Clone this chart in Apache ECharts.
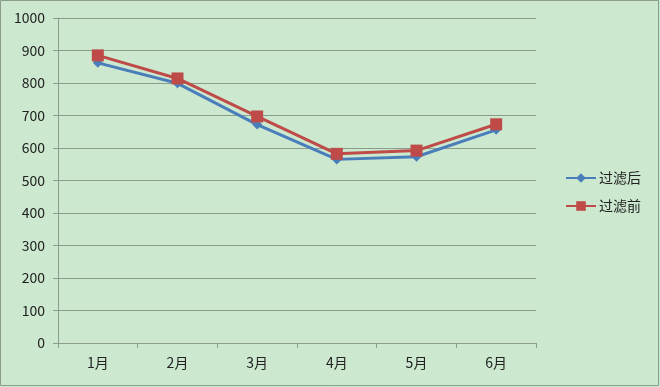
<!DOCTYPE html>
<html><head><meta charset="utf-8">
<script src="https://cdn.jsdelivr.net/npm/echarts@6/dist/echarts.min.js"></script>
<style>html,body{margin:0;padding:0;background:#CCE8CF}#c{width:660px;height:387px}</style>
</head><body><div id="c"></div>
<script>
const categories = ['1月','2月','3月','4月','5月','6月'];
const afterFilter = [862, 799, 672, 565, 573, 656];
const beforeFilter = [885, 814, 697, 582, 592, 673];
const yTicks = [0,100,200,300,400,500,600,700,800,900,1000];

const chart = echarts.init(document.getElementById('c'));
const font = '"Noto Sans CJK SC", "DejaVu Sans", sans-serif';
chart.setOption({
  backgroundColor: '#CCE8CF',
  animation: false,
  graphic: [{type:'rect', shape:{x:0.5,y:0.5,width:658,height:385}, style:{fill:'none', stroke:'#8C9C8C', lineWidth:1}}],
  grid: {left: 58, right: 124, top: 18, bottom: 44},
  legend: {
    orient: 'vertical', left: 560, top: 166, itemGap: 14, itemWidth: 30, itemHeight: 12,
    textStyle: {fontFamily: font, fontSize: 14, color: '#222', padding: [0,0,0,-2]},
    data: ['过滤后','过滤前']
  },
  xAxis: {
    type: 'category', data: categories, boundaryGap: true,
    axisLine: {lineStyle: {color: '#8C9C8C', width: 1}},
    axisTick: {show: true, length: 5, lineStyle: {color: '#8C9C8C'}},
    axisLabel: {fontFamily: font, fontSize: 14, color: '#222', margin: 13}
  },
  yAxis: {
    type: 'value', min: yTicks[0], max: yTicks[yTicks.length-1], interval: 100,
    axisLine: {show: true, lineStyle: {color: '#8C9C8C'}},
    axisTick: {show: true, length: 5, lineStyle: {color: '#8C9C8C'}},
    axisLabel: {fontFamily: font, fontSize: 14, color: '#222', margin: 13, formatter: v => String(v)},
    splitLine: {lineStyle: {color: '#8C9C8C', width: 1}}
  },
  series: [
    {name: '过滤后', type: 'line', data: afterFilter, symbol: 'diamond', symbolSize: 10,
     lineStyle: {color: '#4A7EBB', width: 3}, itemStyle: {color: '#4A7EBB'}, z: 2},
    {name: '过滤前', type: 'line', data: beforeFilter, symbol: 'rect', symbolSize: 12,
     lineStyle: {color: '#BE4B48', width: 3}, itemStyle: {color: '#BE4B48'}, z: 3}
  ]
});
</script></body></html>
